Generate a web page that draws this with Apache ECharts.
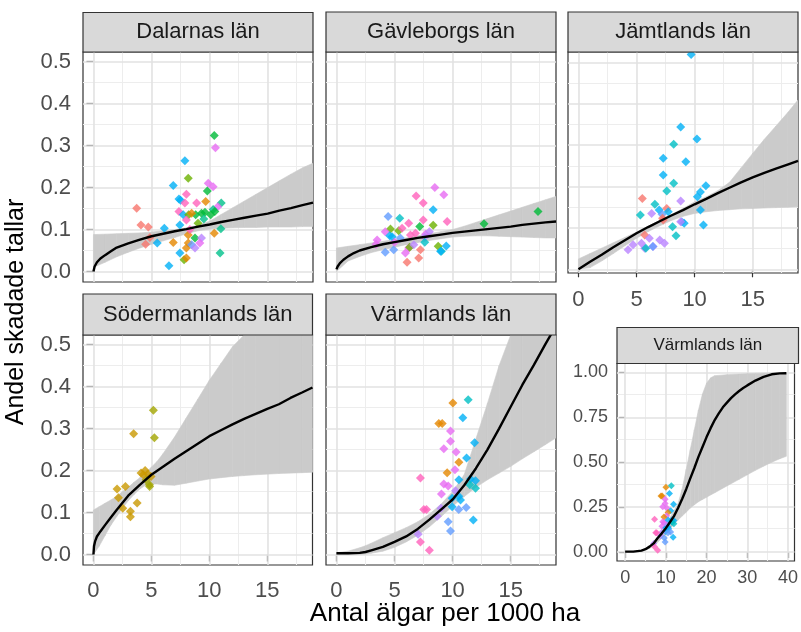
<!DOCTYPE html>
<html><head><meta charset="utf-8">
<script src="https://cdn.jsdelivr.net/npm/echarts@6/dist/echarts.min.js"></script>
<style>html,body{margin:0;padding:0;background:#fff}#c{width:801px;height:632px}</style>
</head><body><div id="c"></div><script>
// ---------- DATA ----------
const palette = ['#F8766D','#E58700','#C99800','#A3A500','#6BB100','#00BA38','#00C08B','#00BFC4','#00B0F6','#619CFF','#B983FF','#E76BF3','#FF62BC'];

const xTicksMain = [0,5,10,15];
const xMinorMain = [2.5,7.5,12.5,17.5];
const yTicksMain = [0,0.1,0.2,0.3,0.4,0.5];
const yMinorMain = [0.05,0.15,0.25,0.35,0.45];
const xTicksSmall = [0,10,20,30,40];
const xMinorSmall = [5,15,25,35];
const yTicksSmall = [0,0.25,0.5,0.75,1];
const yMinorSmall = [0.125,0.375,0.625,0.875];

// Dalarnas län
const dalX = [10.4,10.5,7.87,8.16,6.87,9.88,10.3,9.8,8.0,7.36,7.5,11.0,9.66,8.88,7.87,3.72,10.7,7.36,7.73,10.3,9.3,8.8,9.6,8.2,8.45,10.1,10.45,4.09,4.72,4.86,4.49,6.1,5.49,7.44,6.87,8.16,8.16,8.0,8.74,8.45,9.3,9.16,8.74,10.4,10.97,10.9,7.44,7.8,8.0,6.5,8.3,9.0,9.5,8.0];
const dalY = [0.324,0.295,0.264,0.222,0.205,0.21,0.202,0.192,0.184,0.173,0.17,0.163,0.167,0.163,0.163,0.151,0.154,0.143,0.135,0.148,0.139,0.135,0.141,0.135,0.139,0.135,0.143,0.111,0.106,0.081,0.065,0.103,0.068,0.111,0.069,0.087,0.068,0.056,0.08,0.064,0.08,0.068,0.056,0.091,0.102,0.044,0.044,0.028,0.032,0.014,0.1,0.115,0.125,0.123];
const dalG = [5,11,8,4,8,11,11,5,12,8,8,6,1,12,12,0,11,12,8,6,5,5,5,4,1,5,5,0,0,0,0,8,8,8,1,1,1,1,5,9,10,11,10,1,6,6,8,4,1,8,12,4,6,12];
const dalLineX = [0,0.1,0.3,0.6,1,1.5,2,3,4,5,6,7,8,9,10,11,12,13,14,15,16,17,18,18.9];
const dalLineY = [0,0.012,0.022,0.031,0.039,0.048,0.057,0.067,0.076,0.084,0.09,0.096,0.101,0.107,0.112,0.118,0.123,0.128,0.133,0.138,0.145,0.151,0.158,0.164];
const dalBandX = [0,1,2,3,4,5,6,7,8,9,10,11,12,13,14,15,16,17,18,18.9];
const dalLo = [0.01,0.022,0.035,0.046,0.056,0.065,0.073,0.081,0.09,0.097,0.101,0.103,0.104,0.105,0.105,0.106,0.106,0.106,0.107,0.107];
const dalHi = [0.088,0.089,0.09,0.091,0.092,0.094,0.097,0.1,0.104,0.11,0.12,0.136,0.152,0.168,0.184,0.2,0.216,0.232,0.247,0.258];

// Gävleborgs län
const gavX = [8.47,6.86,9.24,7.47,8.33,4.45,5.45,7.47,9.53,6.22,8.33,7.17,4.65,5.36,5.65,4.2,6.8,7.67,4.8,3.41,4.2,4.93,5.94,6.22,6.3,7.23,8.76,9.45,9.04,6.08,7.08,5.5,7.6,7.6,12.7,17.35,3.5,4.59,6.37,6.66,8.96,5.0,8.0];
const gavY = [0.2,0.18,0.183,0.163,0.147,0.131,0.127,0.123,0.119,0.115,0.11,0.107,0.101,0.097,0.103,0.095,0.091,0.089,0.083,0.065,0.046,0.052,0.044,0.056,0.058,0.052,0.06,0.061,0.048,0.022,0.032,0.08,0.082,0.07,0.114,0.143,0.075,0.085,0.087,0.064,0.048,0.07,0.095];
const gavG = [11,12,11,12,8,9,7,12,12,12,4,5,4,4,12,11,12,11,8,11,9,9,11,11,4,0,4,8,7,0,0,9,10,7,5,5,11,8,12,10,8,11,10];
const gavLineX = [0,0.1,0.3,0.6,1,1.5,2,3,4,5,6,7,8,9,10,11,12,13,14,15,16,17,18,18.9];
const gavLineY = [0.005,0.012,0.02,0.028,0.036,0.044,0.05,0.058,0.065,0.07,0.075,0.08,0.084,0.088,0.092,0.095,0.098,0.101,0.104,0.107,0.111,0.114,0.117,0.119];
const gavBandX = [0,1,2,3,4,5,6,7,8,9,10,11,12,13,14,15,16,17,18,18.9];
const gavLo = [0.0,0.025,0.036,0.045,0.052,0.058,0.064,0.069,0.074,0.078,0.082,0.084,0.085,0.085,0.084,0.083,0.082,0.081,0.08,0.08];
const gavHi = [0.056,0.06,0.064,0.068,0.072,0.076,0.08,0.085,0.09,0.095,0.1,0.108,0.117,0.126,0.135,0.144,0.153,0.162,0.171,0.179];

// Jämtlands län
const jamX = [9.7,8.8,10.2,8.2,7.3,9.24,7.3,8.2,7.6,10.97,10.5,10.24,5.5,8.8,6.58,6.95,10.5,7.6,5.33,6.3,7.2,7.24,7.73,8.1,8.9,9.1,10.76,8.4,5.7,6.1,4.7,5.43,5.7,6.43,7.0,7.4,4.27,5.8,6.4,8.8,7.3];
const jamY = [0.519,0.344,0.315,0.302,0.268,0.26,0.228,0.208,0.189,0.202,0.187,0.175,0.171,0.165,0.157,0.143,0.143,0.147,0.131,0.135,0.133,0.123,0.139,0.103,0.115,0.111,0.107,0.081,0.083,0.075,0.059,0.063,0.051,0.055,0.071,0.063,0.047,0.051,0.055,0.115,0.119];
const jamG = [8,8,8,7,8,8,8,7,7,8,8,8,0,10,7,8,8,0,7,10,9,0,8,7,9,8,8,7,0,10,10,10,10,10,10,10,10,7,9,10,0];
const jamLineX = [0,1,2,3,4,5,6,7,8,9,10,11,12,13,14,15,16,17,18,18.9];
const jamLineY = [0,0.018,0.035,0.053,0.07,0.087,0.102,0.116,0.13,0.143,0.157,0.17,0.184,0.197,0.21,0.222,0.233,0.243,0.253,0.262];
const jamBandX = [0,1,2,3,4,5,6,7,8,9,10,11,12,13,14,15,16,17,18,18.9];
const jamLo = [0,0.004,0.02,0.038,0.057,0.075,0.091,0.105,0.118,0.128,0.135,0.139,0.142,0.144,0.146,0.147,0.148,0.149,0.15,0.151];
const jamHi = [0.025,0.038,0.051,0.064,0.077,0.09,0.104,0.118,0.132,0.147,0.163,0.175,0.19,0.21,0.245,0.28,0.314,0.346,0.378,0.409];

// Södermanlands län
const sodX = [5.17,3.47,5.26,4.11,4.46,4.68,4.54,4.83,4.97,2.04,2.76,2.16,2.53,3.77,3.19,3.19,4.85,4.3];
const sodY = [0.344,0.288,0.278,0.194,0.2,0.192,0.178,0.166,0.186,0.156,0.162,0.135,0.11,0.123,0.103,0.09,0.162,0.19];
const sodG = [3,2,3,2,2,2,3,3,2,2,2,2,2,2,2,2,3,2];
const sodLineX = [0,0.05,0.15,0.3,0.6,1,1.5,2,3,4,5,6,7,8,9,10,11,12,13,14,15,16,17,18,18.9];
const sodLineY = [0,0.02,0.032,0.043,0.055,0.07,0.088,0.106,0.14,0.166,0.19,0.209,0.228,0.246,0.264,0.282,0.296,0.31,0.323,0.335,0.347,0.358,0.373,0.386,0.398];
const sodBandX = [0,0.5,1,1.5,2,2.5,3,3.5,4,4.5,5,5.5,6,7,8,9,10,11,12,13,14,16,18,18.9];
const sodLo = [0,0.02,0.045,0.07,0.09,0.11,0.128,0.143,0.156,0.165,0.168,0.168,0.166,0.165,0.17,0.175,0.18,0.183,0.186,0.188,0.19,0.193,0.195,0.196];
const sodHi = [0.106,0.114,0.122,0.13,0.138,0.15,0.16,0.172,0.183,0.195,0.208,0.222,0.24,0.28,0.325,0.37,0.415,0.455,0.495,0.535,0.575,0.655,0.735,0.77];

// Värmlands län
const varX = [10.02,11.34,10.88,8.81,9.1,9.82,9.82,11.89,9.24,10.3,11.2,10.54,10.2,9.53,7.23,9.24,9.62,10.54,11.54,11.97,11.48,11.97,9.04,9.96,10.25,10.53,10.68,7.52,9.96,10.53,11.17,8.67,9.0,11.78,9.62,9.82,7.03,7.23,8.0,7.75];
const varY = [0.361,0.369,0.326,0.312,0.312,0.294,0.27,0.266,0.252,0.244,0.23,0.22,0.202,0.195,0.182,0.168,0.163,0.178,0.18,0.176,0.166,0.158,0.144,0.134,0.152,0.139,0.13,0.107,0.114,0.107,0.112,0.091,0.11,0.082,0.078,0.056,0.048,0.03,0.01,0.107];
const varG = [1,7,8,1,1,11,11,8,11,11,8,1,11,1,12,11,11,8,8,8,7,7,11,8,10,8,8,12,8,9,9,10,10,8,9,9,10,12,12,12];
const varLineX = [0,1,2,2.5,3,4,5,6,7,8,9,10,11,12,13,14,15,16,17,18,18.9];
const varLineY = [0.003,0.003,0.004,0.006,0.01,0.018,0.03,0.043,0.061,0.083,0.107,0.131,0.165,0.205,0.25,0.3,0.352,0.404,0.452,0.502,0.545];
const varBandX = [0,1,2,2.5,3,4,5,6,7,8,9,10,11,12,13,14,15,16,17,18,18.9];
const varLo = [0,0,0,0.001,0.003,0.008,0.017,0.03,0.046,0.066,0.09,0.115,0.138,0.16,0.178,0.194,0.21,0.228,0.245,0.262,0.278];
const varHi = [0.004,0.008,0.016,0.021,0.027,0.04,0.052,0.064,0.078,0.096,0.12,0.15,0.19,0.275,0.36,0.45,0.54,0.63,0.72,0.8,0.87];

// Värmlands län (second model, extended range)
const var2LineX = [0,2,4,5,6,7,8,9,10,11,12,13,14,15,16,17,18,19,20,21,22,23,24,25,26,27,28,29,30,32,34,36,38,39.6];
const var2LineY = [0.002,0.002,0.008,0.016,0.03,0.048,0.078,0.104,0.133,0.166,0.2,0.245,0.295,0.35,0.41,0.468,0.53,0.585,0.64,0.69,0.735,0.772,0.806,0.832,0.857,0.878,0.897,0.914,0.928,0.955,0.976,0.99,0.995,0.996];
const var2BandX = [0,2,4,6,8,10,12,13,14,15,16,17,18,19,20,21,22,25,28,30,32,34,36,38,39.6];
const var2Lo = [0,0.001,0.004,0.02,0.055,0.1,0.155,0.178,0.2,0.222,0.245,0.263,0.28,0.293,0.305,0.318,0.33,0.368,0.405,0.43,0.455,0.478,0.5,0.52,0.533];
const var2Hi = [0.003,0.004,0.01,0.035,0.085,0.15,0.23,0.27,0.35,0.46,0.57,0.68,0.79,0.88,0.94,0.97,0.982,0.988,0.991,0.993,0.995,0.996,0.997,0.998,0.998];

// ---------- LAYOUT ----------
const FONT = '"Liberation Sans", Arial, Helvetica, sans-serif';
const panels = [
  {title:'Dalarnas län', grid:[83,52,230,230], strip:[83,12.5,230,39.5], sfs:22, xr:[-0.9,18.9], yr:[-0.025,0.523],
   xl:false, yl:true, xt:xTicksMain, xm:xMinorMain, yt:yTicksMain, ym:yMinorMain, dec:1, fs:22, tick:7, xmg:15, ymg:12, ss:9,
   pts:[dalX,dalY,dalG], line:[dalLineX,dalLineY], band:[dalBandX,dalLo,dalHi]},
  {title:'Gävleborgs län', grid:[326,52,230,230], strip:[326,12,230,40], sfs:22, xr:[-0.9,18.9], yr:[-0.025,0.523],
   xl:false, yl:false, xt:xTicksMain, xm:xMinorMain, yt:yTicksMain, ym:yMinorMain, dec:1, fs:22, tick:7, xmg:15, ymg:12, ss:9,
   pts:[gavX,gavY,gavG], line:[gavLineX,gavLineY], band:[gavBandX,gavLo,gavHi]},
  {title:'Jämtlands län', grid:[568,52,230,221], strip:[568,12,230,40], sfs:22, xr:[-0.9,18.9], yr:[-0.009,0.525],
   xl:true, yl:false, xt:xTicksMain, xm:xMinorMain, yt:yTicksMain, ym:yMinorMain, dec:1, fs:22, tick:8, xmg:16, ymg:12, ss:9,
   pts:[jamX,jamY,jamG], line:[jamLineX,jamLineY], band:[jamBandX,jamLo,jamHi]},
  {title:'Södermanlands län', grid:[83,335,229.5,230], strip:[83,294,229.5,41], sfs:22, xr:[-0.9,18.9], yr:[-0.025,0.523],
   xl:true, yl:true, xt:xTicksMain, xm:xMinorMain, yt:yTicksMain, ym:yMinorMain, dec:1, fs:22, tick:7, xmg:15, ymg:12, ss:9,
   pts:[sodX,sodY,sodG], line:[sodLineX,sodLineY], band:[sodBandX,sodLo,sodHi]},
  {title:'Värmlands län', grid:[326,335,230,230], strip:[326,294,230,41], sfs:22, xr:[-0.9,18.9], yr:[-0.025,0.523],
   xl:true, yl:false, xt:xTicksMain, xm:xMinorMain, yt:yTicksMain, ym:yMinorMain, dec:1, fs:22, tick:7, xmg:15, ymg:12, ss:9,
   pts:[varX,varY,varG], line:[varLineX,varLineY], band:[varBandX,varLo,varHi]},
  {title:'Värmlands län', grid:[617,363.5,181.5,197.5], strip:[617,327.5,181.5,36], sfs:17, xr:[-2,41.6], yr:[-0.05,1.05],
   xl:true, yl:true, xt:xTicksSmall, xm:xMinorSmall, yt:yTicksSmall, ym:yMinorSmall, dec:2, fs:18, tick:6, xmg:8, ymg:9, ss:7,
   pts:[varX,varY,varG], line:[var2LineX,var2LineY], band:[var2BandX,var2Lo,var2Hi]}
];

const grids=[], xAxes=[], yAxes=[], series=[], graphics=[];
const gl = (dim, vals, color, width) => vals.map(v => ({[dim]: v, lineStyle:{color, width, type:'solid'}}));
const BAND = '#CBCBCB';

panels.forEach((p, i) => {
  grids.push({left:p.grid[0], top:p.grid[1], width:p.grid[2], height:p.grid[3], show:true,
    backgroundColor:'#ffffff', borderColor:'#333333', borderWidth:1.2});
  xAxes.push({gridIndex:i, type:'value', min:p.xr[0], max:p.xr[1], splitLine:{show:false}, axisLine:{show:false},
    axisTick:{show:p.xl, customValues:p.xt, length:p.tick, lineStyle:{color:'#333333', width:1.2}},
    axisLabel:{show:p.xl, customValues:p.xt, margin:p.xmg, fontSize:p.fs, color:'#4D4D4D', fontFamily:FONT, formatter:v=>String(v)}});
  yAxes.push({gridIndex:i, type:'value', min:p.yr[0], max:p.yr[1], splitLine:{show:false}, axisLine:{show:false},
    axisTick:{show:p.yl, customValues:p.yt, length:p.tick, lineStyle:{color:'#333333', width:1.2}},
    axisLabel:{show:p.yl, customValues:p.yt, margin:p.ymg, fontSize:p.fs, color:'#4D4D4D', fontFamily:FONT, formatter:v=>v.toFixed(p.dec)}});
  const [bx, lo, hi] = p.band;
  const gridLines = [].concat(
    gl('xAxis', p.xm, '#EDEDED', 1.1), gl('yAxis', p.ym, '#EDEDED', 1.1),
    gl('xAxis', p.xt, '#E2E2E2', 1.6), gl('yAxis', p.yt, '#E2E2E2', 1.6));
  // confidence ribbon: one quad per segment between consecutive band points
  series.push({type:'custom', xAxisIndex:i, yAxisIndex:i, silent:true, z:2, clip:true,
    data:bx.map((x,k)=>[x, lo[k], hi[k]]), encode:{x:0, y:[1,2]},
    renderItem:(params, api) => {
      const k = params.dataIndex;
      if (k >= bx.length - 1) return null;
      const pts = [api.coord([bx[k], lo[k]]), api.coord([bx[k+1], lo[k+1]]), api.coord([bx[k+1], hi[k+1]]), api.coord([bx[k], hi[k]])];
      const cs = params.coordSys;
      const clipped = echarts.graphic.clipPointsByRect(pts, {x:cs.x, y:cs.y, width:cs.width, height:cs.height});
      return {type:'polygon', shape:{points:clipped}, style:{fill:BAND, stroke:BAND, lineWidth:0.6}};
    },
    markLine:{silent:true, symbol:['none','none'], label:{show:false}, emphasis:{disabled:true}, animation:false, z:1, data:gridLines}});
  const [px, py, pg] = p.pts;
  series.push({type:'scatter', xAxisIndex:i, yAxisIndex:i, symbol:'diamond', symbolSize:p.ss, z:3, silent:true,
    data:px.map((x,k)=>({value:[x, py[k]], itemStyle:{color:palette[pg[k]]}}))});
  const [lx, ly] = p.line;
  series.push({type:'line', xAxisIndex:i, yAxisIndex:i, symbol:'none', silent:true, z:4,
    lineStyle:{color:'#000000', width:2.4}, data:lx.map((x,k)=>[x, ly[k]])});
  const s = p.strip;
  graphics.push({type:'rect', shape:{x:s[0], y:s[1], width:s[2], height:s[3]}, style:{fill:'#D9D9D9', stroke:'#333333', lineWidth:1.2}, z:10});
  graphics.push({type:'text', x:s[0]+s[2]/2, y:s[1]+s[3]/2, z:11, style:{text:p.title, fill:'#1A1A1A', font:p.sfs+'px '+FONT,
    align:'center', verticalAlign:'middle', textAlign:'center', textVerticalAlign:'middle'}});
});

graphics.push({type:'text', x:16, y:312, rotation:Math.PI/2, z:11, style:{text:'Andel skadade tallar', fill:'#000', font:'25px '+FONT,
  align:'center', verticalAlign:'middle', textAlign:'center', textVerticalAlign:'middle'}});
graphics.push({type:'text', x:445, y:614, z:11, style:{text:'Antal älgar per 1000 ha', fill:'#000', font:'26px '+FONT,
  align:'center', verticalAlign:'middle', textAlign:'center', textVerticalAlign:'middle'}});

const option = {animation:false, backgroundColor:'#ffffff', grid:grids, xAxis:xAxes, yAxis:yAxes, series:series, graphic:{elements:graphics}};
const chart = echarts.init(document.getElementById('c'), null, {renderer:'canvas'});
chart.setOption(option);
</script></body></html>
